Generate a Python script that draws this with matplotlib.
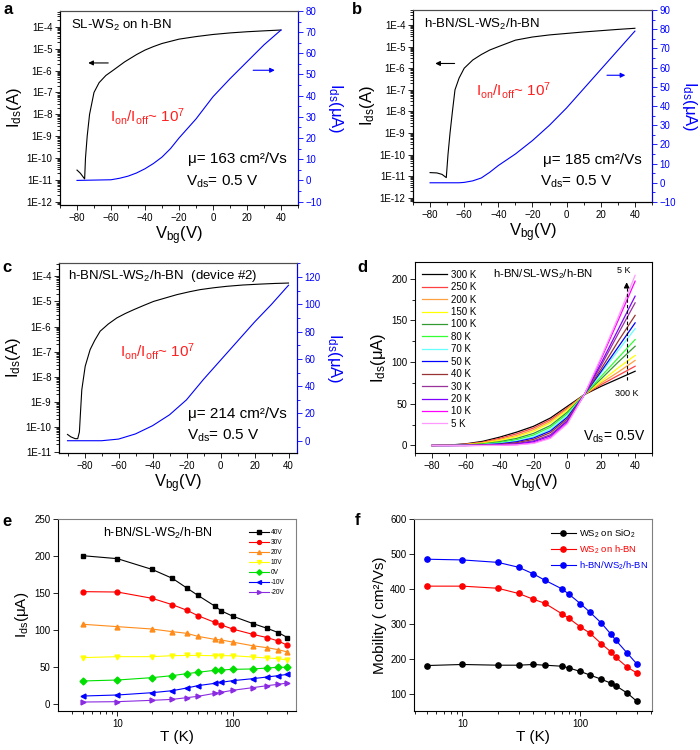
import numpy as np
import matplotlib.pyplot as plt
from matplotlib.ticker import LogLocator, NullFormatter, FuncFormatter, MultipleLocator

plt.rcParams['font.family'] = ['Liberation Sans', 'DejaVu Sans']
plt.rcParams['mathtext.fontset'] = 'custom'
plt.rcParams['mathtext.rm'] = 'Liberation Sans'
plt.rcParams['mathtext.it'] = 'Liberation Sans:italic'
plt.rcParams['mathtext.bf'] = 'Liberation Sans:bold'

# ---- panel a: SL-WS2 on h-BN ----
a_v_log = [-80, -78, -75.5, -75, -74, -72.6, -70, -67, -63, -59, -52, -45, -40, -35, -30, -20, -10, 0, 10, 20, 30, 40]
a_i_log = [2.8e-11, 2e-11, 1.1e-11, 1e-10, 1e-9, 1e-8, 1e-7, 2.8e-7, 6e-7, 1e-6, 2.5e-6, 5.4e-6, 8.7e-6,
           1.26e-5, 1.74e-5, 2.75e-5, 3.6e-5, 4.5e-5, 5.3e-5, 6e-5, 6.6e-5, 7.2e-5]
a_v_lin = [-80, -60, -55, -50, -45, -40, -35, -30, -25, -20, -10, 0, 10, 20, 30, 40]
a_i_lin = [0, 0.3, 1, 2, 3.5, 5.5, 8, 11, 15, 20, 29, 39.5, 48, 56, 64, 71]

# ---- panel b: h-BN/SL-WS2/h-BN ----
b_v_log = [-80, -76, -73, -70.5, -69.5, -68.3, -66.9, -65.4, -63, -60, -55, -50, -45, -40, -30, -20, -10, 0, 10, 20, 30, 40]
b_i_log = [1.45e-11, 1.4e-11, 1.2e-11, 8.5e-12, 1e-10, 1e-9, 1e-8, 1e-7, 3.5e-7, 1e-6, 2.4e-6, 4.3e-6, 7e-6,
           1e-5, 2e-5, 2.8e-5, 3.5e-5, 4.1e-5, 4.8e-5, 5.5e-5, 6.3e-5, 7.1e-5]
b_v_lin = [-80, -63, -60, -55, -50, -45, -40, -30, -20, -10, 0, 10, 20, 30, 40]
b_i_lin = [0, 0, 0.2, 1, 2.5, 5.5, 9, 15, 22, 30, 39, 49, 59, 69, 79]

# ---- panel c: device #2 ----
c_v_log = [-90, -88, -85.5, -84, -83, -82.5, -81.6, -79.6, -76.7, -74, -70.8, -66, -61, -56, -51, -45,
           -39.4, -32, -25.7, -18, -12, -4, 3.7, 13, 23.3, 32, 40]
c_i_log = [5e-11, 4e-11, 3.4e-11, 3.4e-11, 6.3e-11, 2.6e-10, 3e-9, 2.6e-8, 1.2e-7, 2.8e-7, 6.5e-7,
           1.26e-6, 2.2e-6, 3.3e-6, 4.7e-6, 7e-6, 1e-5, 1.4e-5, 1.86e-5, 2.45e-5, 2.95e-5, 3.5e-5,
           4e-5, 4.5e-5, 4.9e-5, 5.2e-5, 5.4e-5]
c_v_lin = [-90, -70, -60, -50, -40, -30, -20, -10, 0, 10, 20, 30, 40]
c_i_lin = [0, 0, 1.2, 5, 11, 19, 30, 45, 59, 73, 87, 100, 114]

# ---- panel d: temperature dependent transfer curves ----
d_vbg = [-80, -70, -60, -50, -40, -30, -20, -10, 0, 10, 20, 30, 40]
d_temps = ['300 K', '250 K', '200 K', '150 K', '100 K', '80 K', '70 K', '50 K', '40 K', '30 K', '20 K', '10 K', '5 K']
d_colors = ['#000000', '#FF4040', '#FFA040', '#FFFF00', '#339933', '#33FF33', '#66FFFF',
            '#0000FF', '#993333', '#993399', '#7F00FF', '#FF00FF', '#FF99FF']
d_300 = [0, 0.5, 2, 5, 10, 16, 23, 33, 47, 61, 71, 80, 89]
d_250 = [0, 0.4, 1.6, 4, 8.5, 14, 21, 31, 45, 61, 73, 84, 95]
d_200 = [0, 0.3, 1.3, 3.4, 7.3, 12, 19, 29, 44, 61, 75, 88, 102]
d_150 = [0, 0.2, 1, 2.8, 6, 10.5, 17, 27, 42, 61, 77, 93, 108]
d_100 = [0, 0.1, 0.7, 2, 4.6, 8.5, 14.5, 24, 40, 61, 80, 100, 119]
d_80 = [0, 0.1, 0.5, 1.5, 3.6, 7, 12.5, 22, 38, 61, 83, 105, 127]
d_70 = [0, 0, 0.3, 1, 2.6, 5.4, 10.5, 19.5, 36, 61, 87, 114, 140]
d_50 = [0, 0, 0.2, 0.8, 2, 4.5, 9, 17.5, 34, 61, 89, 118, 147]
d_40 = [0, 0, 0.1, 0.5, 1.4, 3.4, 7.3, 15.5, 32, 61, 92, 125, 156]
d_30 = [0, 0, 0, 0.3, 0.9, 2.4, 5.6, 13, 30, 61, 96, 134, 171]
d_20 = [0, 0, 0, 0.2, 0.6, 1.7, 4.5, 11.5, 29, 61, 99, 139, 179]
d_10 = [0, 0, 0, 0.1, 0.3, 1, 3, 9.5, 27, 61, 104, 150, 197]
d_5 = [0, 0, 0, 0, 0.2, 0.7, 2.5, 8.5, 26, 61, 106, 154, 204]
d_curves = [d_300, d_250, d_200, d_150, d_100, d_80, d_70, d_50, d_40, d_30, d_20, d_10, d_5]

# ---- panel e: Ids vs T at several Vbg ----
e_T = [5, 10, 20, 30, 40, 50, 70, 80, 100, 150, 200, 250, 300]
e_labels = ['40V', '30V', '20V', '10V', '0V', '-10V', '-20V']
e_colors = ['#000000', '#FF0000', '#FF8C1A', '#FFFF00', '#00E000', '#0000FF', '#8A2BE2']
e_markers = ['s', 'o', '^', 'v', 'D', '<', '>']
e_40 = [200.5, 196.5, 182, 170, 157, 147, 132.6, 126, 119, 109, 102.5, 96.7, 90]
e_30 = [152, 151.5, 143, 134.4, 127, 119.6, 110.6, 107, 101.6, 94.4, 90, 85.4, 79.6]
e_20 = [108, 104.8, 101.6, 98, 95.8, 91.7, 87.7, 86.8, 84, 79, 76.4, 73.7, 70.6]
e_10 = [63, 64.3, 64.3, 65.6, 66, 66, 65.6, 65.6, 65.6, 63.8, 62.5, 61.6, 59.8]
e_0 = [31.5, 32.8, 36, 38.7, 41.4, 43.2, 45.9, 46.3, 47.2, 47.7, 49, 50, 50]
e_m10 = [11.2, 12.6, 15.7, 18.4, 22, 25.2, 28.3, 29.7, 31.9, 34.6, 36.9, 38.7, 40.5]
e_m20 = [3.1, 3.6, 5.4, 6.7, 9, 10.8, 14.8, 16.2, 18.9, 22.5, 25.2, 27, 28.8]
e_series = [e_40, e_30, e_20, e_10, e_0, e_m10, e_m20]

# ---- panel f: mobility vs T ----
f_T = [5, 10, 20, 30, 40, 50, 70, 80, 100, 120, 150, 180, 200, 250, 300]
f_sio2 = [181, 184, 182, 182, 184, 182, 179, 174, 164, 154, 142, 131, 123, 102, 79]
f_hbn = [408, 408, 402, 387, 370.5, 359, 328.6, 316, 291.4, 274, 243.8, 221, 204, 176, 160]
f_encap = [485, 483, 476, 462, 443, 425, 400, 385, 358, 334, 303, 272, 253, 216, 186]

fig = plt.figure(figsize=(7, 7.5), dpi=100)


def style(ax):
    ax.tick_params(which='both', direction='out', labelsize=7, width=0.6, pad=2)
    ax.tick_params(which='major', length=3.5)
    ax.tick_params(which='minor', length=2)
    for s in ax.spines.values():
        s.set_linewidth(0.8)


def transfer(rect, vl, il, vn, inn, ylog, ylin, xlim, lin_major, lin_minor):
    ax = fig.add_axes(rect)
    ax.plot(vl, il, color='k', lw=0.8)
    ax.set_yscale('log')
    ax.set_ylim(ylog)
    ax.set_xlim(xlim)
    ax.yaxis.set_major_locator(LogLocator(base=10, numticks=20))
    ax.yaxis.set_minor_locator(LogLocator(base=10, subs=np.arange(2, 10), numticks=20))
    ax.yaxis.set_minor_formatter(NullFormatter())
    ax.yaxis.set_major_formatter(FuncFormatter(lambda v, p: '1E%d' % int(round(np.log10(v)))))
    ax.xaxis.set_major_locator(MultipleLocator(20))
    ax.xaxis.set_minor_locator(MultipleLocator(10))
    ax.set_xlabel(r'V$_{\rm bg}$(V)', fontsize=12, labelpad=1)
    ax.set_ylabel(r'I$_{\rm ds}$(A)', fontsize=12, labelpad=2)
    style(ax)
    ax.spines['top'].set_color('0.3')
    ax2 = ax.twinx()
    ax2.plot(vn, inn, color='blue', lw=0.8)
    ax2.set_ylim(ylin)
    ax2.yaxis.set_major_locator(MultipleLocator(lin_major))
    ax2.yaxis.set_minor_locator(MultipleLocator(lin_minor))
    style(ax2)
    ax2.tick_params(axis='y', which='both', colors='blue')
    ax2.spines['right'].set_color('blue')
    ax2.spines['top'].set_color('0.3')
    ax2.set_ylabel(r'I$_{\rm ds}$(μA)', fontsize=12, color='blue', rotation=270, va='bottom', labelpad=3)
    return ax, ax2


def texts(ax, title, pos_title, pos_ratio, mu, pos_mu, pos_vds):
    ax.text(*pos_title, title, transform=ax.transAxes, fontsize=9.5, va='center')
    ax.text(*pos_ratio, r'I$_{\rm on}$/I$_{\rm off}$~ 10$^7$', transform=ax.transAxes,
            fontsize=11, color='#FF2020', va='center')
    ax.text(*pos_mu, 'μ= %d cm²/Vs' % mu, transform=ax.transAxes, fontsize=11, va='center')
    ax.text(*pos_vds, r'V$_{\rm ds}$= 0.5 V', transform=ax.transAxes, fontsize=11, va='center')


# a
ax, ax2 = transfer([0.0857, 0.7267, 0.34, 0.2587], a_v_log, a_i_log, a_v_lin, a_i_lin,
                   (10 ** -12.15, 10 ** -3.27), (-11.6, 80), (-90, 50), 10, 5)
texts(ax, r'SL-WS$_2$ on h-BN', (0.045, 0.926), (0.21, 0.455), 163, (0.538, 0.235), (0.53, 0.12))
ax.annotate('', xy=(-75, 10 ** -5.65), xytext=(-60, 10 ** -5.65),
            arrowprops=dict(arrowstyle='-|>', color='k', lw=0.8, mutation_scale=7))
ax2.annotate('', xy=(38, 52), xytext=(22, 52),
             arrowprops=dict(arrowstyle='-|>', color='blue', lw=0.8, mutation_scale=7))

# b
ax, ax2 = transfer([0.59, 0.7307, 0.3414, 0.256], b_v_log, b_i_log, b_v_lin, b_i_lin,
                   (10 ** -12.2, 10 ** -3.3), (-10, 90), (-90, 50), 10, 5)
texts(ax, r'h-BN/SL-WS$_2$/h-BN', (0.045, 0.927), (0.262, 0.583), 185, (0.544, 0.221), (0.533, 0.104))
ax.annotate('', xy=(-78.6, 10 ** -5.78), xytext=(-64, 10 ** -5.78),
            arrowprops=dict(arrowstyle='-|>', color='k', lw=0.8, mutation_scale=7))
ax2.annotate('', xy=(36, 56), xytext=(22, 56),
             arrowprops=dict(arrowstyle='-|>', color='blue', lw=0.8, mutation_scale=7))

# c
ax, ax2 = transfer([0.0843, 0.396, 0.34, 0.2533], c_v_log, c_i_log, c_v_lin, c_i_lin,
                   (10 ** -11.04, 10 ** -3.47), (-9, 130.3), (-95, 45), 20, 10)
texts(ax, r'h-BN/SL-WS$_2$/h-BN  (device #2)', (0.038, 0.93), (0.258, 0.535), 214, (0.543, 0.207), (0.537, 0.088))

# d
ax = fig.add_axes([0.5929, 0.396, 0.3386, 0.2547])
for lab, col, cur in zip(d_temps, d_colors, d_curves):
    ax.plot(d_vbg, cur, color=col, lw=0.9, label=lab)
ax.set_xlim(-90, 50)
ax.set_ylim(-9, 220)
ax.xaxis.set_major_locator(MultipleLocator(20))
ax.xaxis.set_minor_locator(MultipleLocator(10))
ax.yaxis.set_major_locator(MultipleLocator(50))
ax.yaxis.set_minor_locator(MultipleLocator(25))
style(ax)
ax.set_xlabel(r'V$_{\rm bg}$(V)', fontsize=12, labelpad=1)
ax.set_ylabel(r'I$_{\rm ds}$(μA)', fontsize=12, labelpad=2)
ax.legend(loc='upper left', bbox_to_anchor=(0.0, 0.995), frameon=False, fontsize=7,
          handlelength=2.6, handletextpad=0.4, labelspacing=0.25, borderaxespad=0.3)
ax.text(0.327, 0.934, r'h-BN/SL-WS$_2$/h-BN', transform=ax.transAxes, fontsize=8.2, va='center')
ax.text(0.71, 0.087, r'V$_{\rm ds}$= 0.5V', transform=ax.transAxes, fontsize=10, va='center')
ax.plot([35, 35], [79, 190], color='k', lw=0.8, ls=(0, (3, 2)))
ax.annotate('', xy=(35, 199), xytext=(35, 189),
            arrowprops=dict(arrowstyle='-|>', color='k', lw=0.8, mutation_scale=8))
ax.text(33, 210, '5 K', fontsize=6.5, ha='center', va='center')
ax.text(35, 62, '300 K', fontsize=6.5, ha='center', va='center')

# e
ax = fig.add_axes([0.0829, 0.052, 0.34, 0.256])
for lab, col, mk, ser in zip(e_labels, e_colors, e_markers, e_series):
    ax.plot(e_T, ser, color=col, lw=0.8, marker=mk, ms=3.5, mec=col, mfc=col, label=lab)
ax.set_xscale('log')
ax.set_xlim(3.05, 356)
ax.set_ylim(-9, 250)
ax.yaxis.set_major_locator(MultipleLocator(50))
ax.xaxis.set_major_formatter(FuncFormatter(lambda v, p: '%g' % v))
ax.xaxis.set_minor_formatter(NullFormatter())
style(ax)
ax.tick_params(top=False, right=False)
ax.spines['top'].set_color('0.5')
ax.spines['right'].set_color('0.5')
ax.set_xlabel('T (K)', fontsize=11, labelpad=1)
ax.set_ylabel(r'I$_{\rm ds}$(μA)', fontsize=11, labelpad=2)
ax.legend(loc='upper left', bbox_to_anchor=(0.79, 0.96), frameon=False, fontsize=4.8,
          handlelength=3.0, handletextpad=0.3, labelspacing=0.45, borderaxespad=0.0, markerscale=0.8)
ax.text(0.187, 0.925, r'h-BN/SL-WS$_2$/h-BN', transform=ax.transAxes, fontsize=9, va='center')

# f
ax = fig.add_axes([0.5914, 0.052, 0.34, 0.256])
ax.plot(f_T, f_sio2, color='k', lw=0.8, marker='o', ms=3.8, label=r'WS$_2$ on SiO$_2$')
ax.plot(f_T, f_hbn, color='red', lw=0.8, marker='o', ms=3.8, label=r'WS$_2$ on h-BN')
ax.plot(f_T, f_encap, color='blue', lw=0.8, marker='o', ms=3.8, label=r'h-BN/WS$_2$/h-BN')
ax.set_xscale('log')
ax.set_xlim(3.9, 404)
ax.set_ylim(51, 600)
ax.yaxis.set_major_locator(MultipleLocator(100))
ax.xaxis.set_major_formatter(FuncFormatter(lambda v, p: '%g' % v))
ax.xaxis.set_minor_formatter(NullFormatter())
style(ax)
ax.tick_params(top=False, right=False)
ax.spines['top'].set_color('0.5')
ax.spines['right'].set_color('0.5')
ax.set_xlabel('T (K)', fontsize=11, labelpad=1)
ax.set_ylabel('Mobility ( cm²/Vs)', fontsize=11, labelpad=2)
ax.legend(loc='upper left', bbox_to_anchor=(0.56, 0.975), frameon=False, fontsize=6.8,
          handlelength=2.6, handletextpad=0.4, labelspacing=0.35, borderaxespad=0.0,
          labelcolor='linecolor')

# panel letters
for lab, x, y in [('a', 0.005, 0.998), ('b', 0.503, 0.998), ('c', 0.004, 0.654),
                  ('d', 0.51, 0.654), ('e', 0.003, 0.314), ('f', 0.507, 0.316)]:
    fig.text(x, y, lab, fontsize=12, fontweight='bold', va='top', ha='left')

fig.savefig('out.png', dpi=100)
